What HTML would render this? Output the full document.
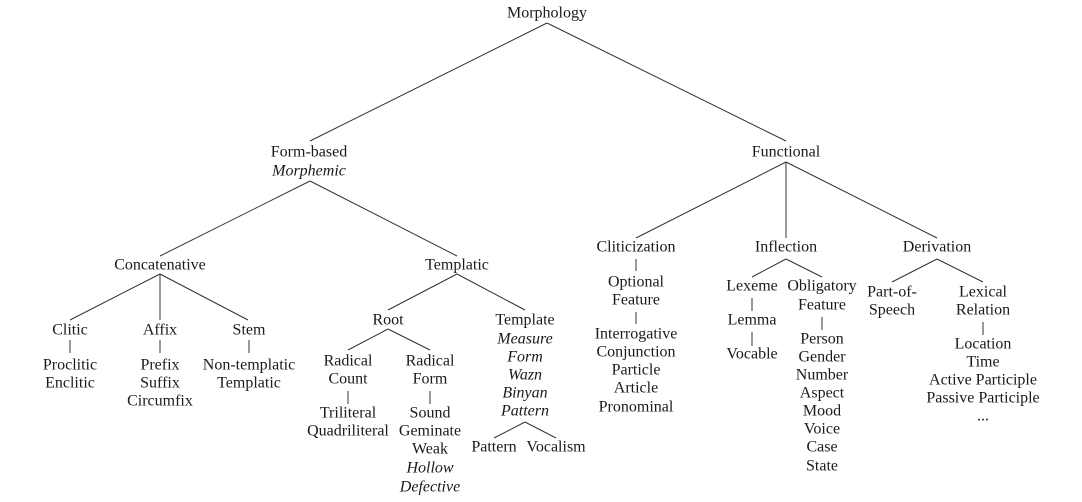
<!DOCTYPE html>
<html><head><meta charset="utf-8"><style>
html,body{margin:0;padding:0;background:#fff;}
svg{display:block}
text{font-family:"Liberation Serif",serif;font-size:16px;fill:#1a1a1a;text-anchor:middle;dominant-baseline:central}
.i{font-style:italic}
line{stroke:#333;stroke-width:1}
</style></head><body>
<svg width="1082" height="502" viewBox="0 0 1082 502" xmlns="http://www.w3.org/2000/svg">
<g transform="translate(0,1)">
<text x="547" y="12">Morphology</text>
<text x="309" y="151">Form-based</text>
<text x="309" y="170" class="i">Morphemic</text>
<text x="160" y="264">Concatenative</text>
<text x="70" y="329">Clitic</text>
<text x="70" y="364">Proclitic</text><text x="70" y="382">Enclitic</text>
<text x="160" y="329">Affix</text>
<text x="160" y="364">Prefix</text><text x="160" y="382">Suffix</text><text x="160" y="400">Circumfix</text>
<text x="249" y="329">Stem</text>
<text x="249" y="364">Non-templatic</text><text x="249" y="382">Templatic</text>
<text x="457" y="264">Templatic</text>
<text x="388" y="319">Root</text>
<text x="348" y="360">Radical</text><text x="348" y="378">Count</text>
<text x="348" y="412">Triliteral</text><text x="348" y="430">Quadriliteral</text>
<text x="430" y="360">Radical</text><text x="430" y="378">Form</text>
<text x="430" y="412">Sound</text><text x="430" y="430">Geminate</text><text x="430" y="448">Weak</text>
<text x="430" y="467" class="i">Hollow</text><text x="430" y="486" class="i">Defective</text>
<text x="525" y="319">Template</text>
<text x="525" y="338" class="i">Measure</text><text x="525" y="356" class="i">Form</text>
<text x="525" y="374" class="i">Wazn</text><text x="525" y="392" class="i">Binyan</text>
<text x="525" y="410" class="i">Pattern</text>
<text x="494" y="446">Pattern</text><text x="556" y="446">Vocalism</text>
<text x="786" y="151">Functional</text>
<text x="636" y="246">Cliticization</text>
<text x="636" y="281">Optional</text><text x="636" y="299">Feature</text>
<text x="636" y="333">Interrogative</text><text x="636" y="351">Conjunction</text><text x="636" y="369">Particle</text><text x="636" y="387">Article</text><text x="636" y="406">Pronominal</text>
<text x="786" y="246">Inflection</text>
<text x="752" y="285">Lexeme</text>
<text x="752" y="319">Lemma</text>
<text x="752" y="353">Vocable</text>
<text x="822" y="285">Obligatory</text><text x="822" y="304">Feature</text>
<text x="822" y="338">Person</text><text x="822" y="356">Gender</text><text x="822" y="374">Number</text><text x="822" y="392">Aspect</text><text x="822" y="410">Mood</text><text x="822" y="428">Voice</text><text x="822" y="446">Case</text><text x="822" y="465">State</text>
<text x="937" y="246">Derivation</text>
<text x="892" y="291">Part-of-</text><text x="892" y="309">Speech</text>
<text x="983" y="291">Lexical</text><text x="983" y="309">Relation</text>
<text x="983" y="343">Location</text><text x="983" y="361">Time</text><text x="983" y="379">Active Participle</text><text x="983" y="397">Passive Participle</text><text x="983" y="415">...</text>
</g>
<line x1="547" y1="23" x2="310" y2="141"/><line x1="547" y1="23" x2="786" y2="141"/>
<line x1="310" y1="181" x2="160" y2="256"/><line x1="310" y1="181" x2="457" y2="256"/>
<line x1="160" y1="274" x2="70" y2="320"/><line x1="160" y1="274" x2="160" y2="320"/><line x1="160" y1="274" x2="248" y2="320"/>
<line x1="70" y1="340" x2="70" y2="353"/>
<line x1="160" y1="340" x2="160" y2="353"/>
<line x1="249" y1="340" x2="249" y2="353"/>
<line x1="457" y1="274" x2="388" y2="310"/><line x1="457" y1="274" x2="525" y2="310"/>
<line x1="388" y1="329" x2="348" y2="350"/><line x1="388" y1="329" x2="430" y2="350"/>
<line x1="348" y1="391" x2="348" y2="404"/>
<line x1="430" y1="391" x2="430" y2="404"/>
<line x1="525" y1="422" x2="494" y2="438"/><line x1="525" y1="422" x2="556" y2="438"/>
<line x1="786" y1="162" x2="636" y2="238"/><line x1="786" y1="162" x2="786" y2="238"/><line x1="786" y1="162" x2="937" y2="238"/>
<line x1="636" y1="259" x2="636" y2="271"/>
<line x1="636" y1="312" x2="636" y2="324"/>
<line x1="786" y1="259" x2="752" y2="277"/><line x1="786" y1="259" x2="822" y2="277"/>
<line x1="752" y1="298" x2="752" y2="311"/>
<line x1="752" y1="332" x2="752" y2="346"/>
<line x1="822" y1="317" x2="822" y2="330"/>
<line x1="937" y1="259" x2="892" y2="282"/><line x1="937" y1="259" x2="983" y2="282"/>
<line x1="983" y1="322" x2="983" y2="335"/>
</svg>
</body></html>
